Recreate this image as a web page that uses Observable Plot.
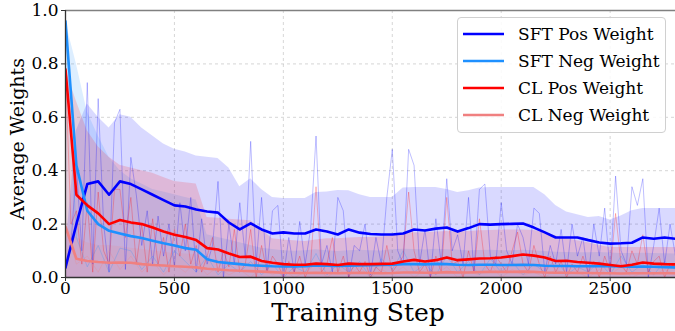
<!DOCTYPE html>
<html>
<head>
<meta charset="utf-8">
<script src="https://cdn.jsdelivr.net/npm/d3@7"></script>
<script src="https://cdn.jsdelivr.net/npm/@observablehq/plot@0.6"></script>
<style>
  html, body { margin: 0; padding: 0; background: #fff; }
  #wrap { position: relative; width: 675px; height: 331px; overflow: hidden; }
  #wrap svg text { font-family: "DejaVu Serif", serif; }
  #legend { position: absolute; left: 457px; top: 17px; width: 209px; height: 116px;
    border: 1px solid #d0d0d0; border-radius: 4px; background: rgba(255,255,255,0.85);
    box-sizing: border-box; font-family: "DejaVu Serif", serif; font-size: 17px; color: #000; }
  .row { position: absolute; left: 5px; height: 27px; display: flex; align-items: center; white-space: nowrap; }
  .row svg { width: 41px; height: 10px; margin-right: 14px; }
  .ylab { position: absolute; left: 17px; top: 139px; transform: translate(-50%, -50%) rotate(-90deg);
    font-family: "DejaVu Serif", serif; font-size: 19px; white-space: nowrap; }
  .xlab { position: absolute; left: 358px; top: 312px; transform: translate(-50%, -50%);
    font-family: "DejaVu Serif", serif; font-size: 25px; white-space: nowrap; }
</style>
</head>
<body>
<div id="wrap"></div>
<script>
// ---- data ----
const seriesNames = ["SFT Pos Weight", "SFT Neg Weight", "CL Pos Weight", "CL Neg Weight"];
const seriesColors = ["#0000ff", "#1e90ff", "#ff0000", "#f08080"];
const xTicks = [0, 500, 1000, 1500, 2000, 2500];
const yTicks = [0, 0.2, 0.4, 0.6, 0.8, 1.0];
const xLabel = "Training Step";
const yLabel = "Average Weights";

// raw steps every 25, smoothed/band steps every 50
const rawSteps = d3.range(0, 2801, 25);
const smoothSteps = d3.range(0, 2801, 50);

const sftPosRaw = [
  0.04,0.12,0.42,0.1,0.73,0.05,0.67,0.2,
  0.02,0.58,0.63,0.03,0.45,0.31,0.12,0.25,
  0.05,0.23,0.08,0.2,0.04,0.28,0.1,0.3,
  0.02,0.22,0.05,0.12,0.36,0.0,0.2,0.05,
  0.28,0.08,0.51,0.05,0.3,0.02,0.25,0.27,
  0.0,0.15,0.02,0.21,0.05,0.18,0.53,0.05,
  0.12,0.02,0.3,0.25,0.0,0.12,0.1,0.2,
  0.01,0.15,0.05,0.3,0.48,0.1,0.05,0.48,
  0.42,0.05,0.18,0.0,0.22,0.05,0.37,0.1,
  0.16,0.05,0.3,0.02,0.33,0.35,0.08,0.05,
  0.28,0.1,0.05,0.2,0.15,0.05,0.26,0.24,
  0.02,0.12,0.05,0.18,0.02,0.2,0.08,0.15,
  0.0,0.2,0.08,0.26,0.02,0.38,0.1,0.05,
  0.34,0.27,0.37,0.0,0.12,0.26,0.05,0.2,
  0.08];
const clPosRaw = [
  0.78,0.2,0.25,0.05,0.28,0.02,0.32,0.1,
  0.05,0.33,0.33,0.15,0.3,0.05,0.2,0.02,
  0.22,0.05,0.15,0.02,0.18,0.08,0.2,0.05,
  0.12,0.02,0.08,0.15,0.02,0.1,0.04,0.18,
  0.02,0.05,0.18,0.0,0.12,0.02,0.08,0.05,
  0.0,0.06,0.02,0.08,0.0,0.05,0.34,0.02,
  0.05,0.15,0.02,0.08,0.0,0.05,0.02,0.06,
  0.0,0.04,0.02,0.12,0.02,0.05,0.08,0.32,
  0.1,0.02,0.05,0.0,0.08,0.02,0.3,0.05,
  0.06,0.0,0.1,0.02,0.22,0.05,0.02,0.08,
  0.05,0.02,0.1,0.17,0.05,0.02,0.12,0.05,
  0.0,0.08,0.02,0.06,0.0,0.05,0.02,0.08,
  0.02,0.06,0.0,0.08,0.02,0.24,0.05,0.02,
  0.1,0.05,0.16,0.02,0.06,0.08,0.0,0.05,
  0.04];
const sftNegRaw = [
  0.96,0.15,0.04,0.12,0.02,0.11,0.1,0.03,
  0.08,0.02,0.1,0.06,0.02,0.08,0.01,0.05,
  0.02,0.06,0.01,0.05,0.0,0.04,0.02,0.09,
  0.01,0.05,0.02,0.06,0.0,0.07,0.03,0.1,
  0.02,0.05,0.01,0.08,0.02,0.06,0.01,0.07,
  0.02,0.06,0.01,0.05,0.02,0.07,0.01,0.04,
  0.02,0.06,0.01,0.08,0.02,0.05,0.01,0.06,
  0.03];
const clNegRaw = [
  0.19,0.05,0.08,0.02,0.1,0.03,0.08,0.02,
  0.06,0.01,0.05,0.02,0.06,0.01,0.04,0.01,
  0.03,0.0,0.04,0.01,0.03,0.0,0.02,0.05,
  0.0,0.03,0.01,0.04,0.0,0.03,0.01,0.04,
  0.0,0.03,0.01,0.04,0.0,0.02,0.01,0.05,
  0.0,0.03,0.01,0.02,0.0,0.03,0.01,0.02,
  0.0,0.03,0.01,0.04,0.0,0.02,0.01,0.03,
  0.01];

const sftPosSmooth = [
  0.037,0.2,0.35,0.36,0.31,0.36,0.35,0.33,
  0.31,0.29,0.27,0.266,0.255,0.247,0.243,0.206,
  0.18,0.203,0.18,0.165,0.169,0.165,0.165,0.18,
  0.172,0.161,0.18,0.168,0.163,0.161,0.161,0.165,
  0.18,0.176,0.183,0.187,0.172,0.185,0.2,0.198,
  0.2,0.201,0.202,0.187,0.169,0.15,0.15,0.15,
  0.14,0.131,0.127,0.128,0.13,0.15,0.145,0.15,
  0.145];
const sftNegSmooth = [
  0.96,0.42,0.25,0.2,0.175,0.165,0.155,0.148,
  0.138,0.128,0.12,0.11,0.104,0.068,0.058,0.054,
  0.05,0.046,0.044,0.042,0.041,0.041,0.042,0.045,
  0.044,0.043,0.044,0.045,0.046,0.047,0.048,0.05,
  0.05,0.049,0.051,0.05,0.048,0.047,0.048,0.048,
  0.047,0.047,0.048,0.047,0.044,0.043,0.043,0.042,
  0.042,0.043,0.042,0.041,0.04,0.041,0.04,0.039,
  0.038];
const clPosSmooth = [
  0.78,0.31,0.27,0.24,0.2,0.215,0.206,0.2,
  0.187,0.172,0.16,0.152,0.14,0.11,0.105,0.09,
  0.077,0.078,0.062,0.055,0.05,0.048,0.048,0.052,
  0.05,0.047,0.052,0.05,0.05,0.051,0.052,0.06,
  0.066,0.06,0.065,0.075,0.065,0.068,0.071,0.072,
  0.075,0.08,0.086,0.082,0.075,0.062,0.063,0.058,
  0.055,0.052,0.047,0.042,0.048,0.056,0.052,0.05,
  0.049];
const clNegSmooth = [
  0.19,0.07,0.062,0.058,0.055,0.056,0.055,0.05,
  0.047,0.045,0.042,0.04,0.038,0.033,0.03,0.027,
  0.025,0.024,0.022,0.02,0.018,0.017,0.017,0.018,
  0.017,0.016,0.017,0.018,0.017,0.016,0.017,0.019,
  0.019,0.018,0.018,0.02,0.019,0.019,0.02,0.021,
  0.021,0.021,0.022,0.021,0.019,0.018,0.018,0.017,
  0.017,0.016,0.016,0.015,0.016,0.016,0.016,0.016,
  0.016];

// upper edge of the shaded spread (lower edge sits at 0)
const sftPosUpper = [
  0.1,0.55,0.65,0.6,0.56,0.61,0.6,0.56,
  0.53,0.5,0.48,0.47,0.455,0.45,0.446,0.41,
  0.34,0.37,0.33,0.3,0.296,0.296,0.296,0.318,
  0.32,0.326,0.325,0.31,0.3,0.3,0.3,0.335,
  0.337,0.337,0.337,0.33,0.318,0.325,0.335,0.337,
  0.337,0.337,0.337,0.337,0.31,0.27,0.245,0.235,
  0.225,0.228,0.215,0.23,0.25,0.258,0.258,0.258,
  0.258];
const sftNegUpper = [
  0.96,0.8,0.62,0.53,0.45,0.4,0.37,0.35,
  0.33,0.32,0.31,0.3,0.29,0.16,0.15,0.14,
  0.13,0.12,0.11,0.105,0.1,0.098,0.1,0.104,
  0.1,0.097,0.1,0.102,0.1,0.099,0.104,0.106,
  0.105,0.103,0.106,0.104,0.102,0.1,0.101,0.102,
  0.1,0.1,0.102,0.1,0.097,0.095,0.094,0.093,
  0.093,0.094,0.092,0.09,0.09,0.091,0.09,0.089,
  0.088];
const clPosUpper = [
  0.78,0.66,0.55,0.49,0.45,0.42,0.41,0.4,
  0.39,0.375,0.36,0.355,0.35,0.225,0.222,0.218,
  0.215,0.213,0.18,0.145,0.14,0.138,0.135,0.14,
  0.145,0.145,0.148,0.15,0.15,0.152,0.155,0.165,
  0.168,0.168,0.17,0.172,0.17,0.172,0.175,0.176,
  0.178,0.178,0.178,0.176,0.169,0.155,0.145,0.138,
  0.13,0.12,0.112,0.112,0.112,0.112,0.112,0.112,
  0.112];
const clNegUpper = [
  0.19,0.15,0.13,0.12,0.12,0.115,0.11,0.105,
  0.1,0.095,0.09,0.088,0.085,0.07,0.065,0.06,
  0.058,0.055,0.05,0.047,0.045,0.045,0.044,0.046,
  0.045,0.044,0.045,0.046,0.045,0.044,0.045,0.048,
  0.048,0.047,0.047,0.05,0.049,0.049,0.05,0.052,
  0.052,0.052,0.053,0.052,0.048,0.046,0.046,0.045,
  0.045,0.044,0.043,0.042,0.043,0.043,0.043,0.043,
  0.043];

// ---- tables ----
const rawSets = [sftPosRaw, sftNegRaw, clPosRaw, clNegRaw];
const rawStepSets = [rawSteps, smoothSteps, rawSteps, smoothSteps];
const smoothSets = [sftPosSmooth, sftNegSmooth, clPosSmooth, clNegSmooth];
const upperSets = [sftPosUpper, sftNegUpper, clPosUpper, clNegUpper];

const raw = [], smooth = [], band = [];
seriesNames.forEach((name, i) => {
  rawSets[i].forEach((v, j) => raw.push({series: name, step: rawStepSets[i][j], value: v}));
  smoothSets[i].forEach((v, j) => smooth.push({series: name, step: smoothSteps[j], value: v}));
  upperSets[i].forEach((v, j) => band.push({series: name, step: smoothSteps[j], lo: 0, hi: v}));
});

const marks = [
  Plot.gridX(xTicks, {stroke: "#b0b0b0", strokeOpacity: 0.65, strokeDasharray: "3,3", strokeWidth: 0.8}),
  Plot.gridY(yTicks, {stroke: "#b0b0b0", strokeOpacity: 0.65, strokeDasharray: "3,3", strokeWidth: 0.8})
];
seriesNames.forEach((name, i) => {
  marks.push(Plot.areaY(band.filter(d => d.series === name),
    {x: "step", y1: "lo", y2: "hi", fill: seriesColors[i], fillOpacity: 0.15, clip: true}));
});
seriesNames.forEach((name, i) => {
  marks.push(Plot.lineY(raw.filter(d => d.series === name),
    {x: "step", y: "value", stroke: seriesColors[i], strokeOpacity: 0.3, strokeWidth: 0.85, clip: true}));
});
seriesNames.forEach((name, i) => {
  marks.push(Plot.lineY(smooth.filter(d => d.series === name),
    {x: "step", y: "value", stroke: seriesColors[i], strokeWidth: 2.6, clip: true}));
});
marks.push(
  Plot.ruleY([1], {stroke: "#808080", strokeWidth: 1.6}),
  Plot.ruleX([0], {stroke: "#333", strokeWidth: 1.3}),
  Plot.ruleY([0], {stroke: "#333", strokeWidth: 1.3}),
  Plot.axisX(xTicks, {tickSize: 4, tickPadding: 0, fontSize: 17, stroke: "#333", fill: "#000", label: null, tickFormat: d3.format("d")}),
  Plot.axisY(yTicks, {tickSize: 4, tickPadding: 3, fontSize: 17, stroke: "#333", fill: "#000", label: null, tickFormat: d3.format(".1f")})
);

const chart = Plot.plot({
  width: 675, height: 331,
  marginLeft: 65, marginRight: 0, marginTop: 10, marginBottom: 54,
  x: {domain: [0, 2800]},
  y: {domain: [0, 1]},
  style: {fontFamily: "DejaVu Serif, serif", fontSize: "17px", color: "#000", background: "#fff"},
  marks
});

const wrap = document.getElementById("wrap");
wrap.appendChild(chart);

// axis titles
const yl = document.createElement("div"); yl.className = "ylab"; yl.textContent = yLabel; wrap.appendChild(yl);
const xl = document.createElement("div"); xl.className = "xlab"; xl.textContent = xLabel; wrap.appendChild(xl);

// legend
const leg = document.createElement("div"); leg.id = "legend";
seriesNames.forEach((name, i) => {
  const r = document.createElement("div"); r.className = "row";
  r.style.top = (2 + i * 27) + "px";
  r.innerHTML = `<svg viewBox="0 0 41 10"><line x1="0" y1="5" x2="41" y2="5" stroke="${seriesColors[i]}" stroke-width="2.6"/></svg><span>${name}</span>`;
  leg.appendChild(r);
});
wrap.appendChild(leg);
</script>
</body>
</html>
